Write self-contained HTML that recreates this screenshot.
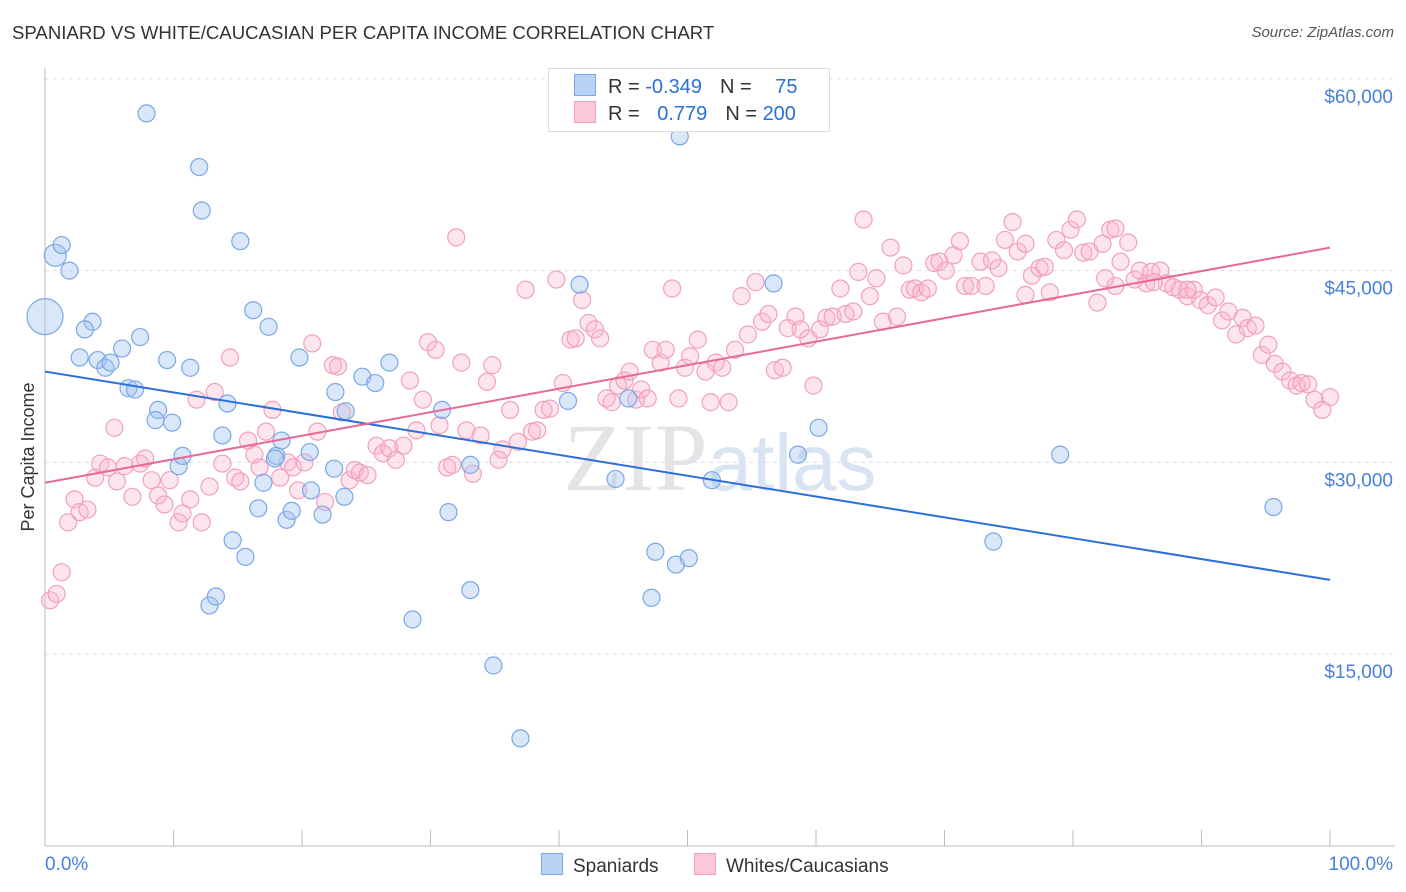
<!DOCTYPE html>
<html><head><meta charset="utf-8">
<style>
body{margin:0;background:#fff;font-family:"Liberation Sans",sans-serif;}
#wrap{position:relative;width:1406px;height:892px;overflow:hidden;}
.t{position:absolute;white-space:nowrap;}
</style></head>
<body><div id="wrap">
<div class="t" style="left:12px;top:22px;font-size:18.6px;color:#333;">SPANIARD VS WHITE/CAUCASIAN PER CAPITA INCOME CORRELATION CHART</div>
<div class="t" style="right:12px;top:24px;font-size:15px;color:#555;font-style:italic;">Source: ZipAtlas.com</div>
<svg id="plot" width="1406" height="892" style="position:absolute;left:0;top:0"></svg>
</div>
<script>
const yTicks=[15000,30000,45000,60000];
const yTickLabels=["$15,000","$30,000","$45,000","$60,000"];
const xTickLabels=["0.0%","100.0%"];
const spanX=[0,0.8,1.3,1.9,3.7,3.1,2.7,4.1,4.7,5.1,6.0,7.4,7.9,6.5,7.0,8.8,8.6,9.9,9.5,10.4,10.7,11.3,12.0,12.2,14.2,13.8,14.6,15.2,15.6,16.2,17.4,17.0,16.6,18.0,18.4,18.8,19.2,19.8,20.6,20.7,21.6,22.6,22.5,23.4,23.3,24.7,25.7,26.8,30.9,31.4,33.1,33.1,34.9,37.0,41.6,40.7,44.4,45.4,47.5,47.2,49.1,50.1,49.4,51.9,56.7,58.6,60.2,73.8,79.0,95.6,12.8,13.3,28.6,17.9];
const spanY=[41.4,46.2,47.0,45.0,41.0,40.4,38.2,38.0,37.4,37.8,38.9,39.8,57.3,35.8,35.7,34.1,33.3,33.1,38.0,29.7,30.5,37.4,53.1,49.7,34.6,32.1,23.9,47.3,22.6,41.9,40.6,28.4,26.4,30.5,31.7,25.5,26.2,38.2,30.8,27.8,25.9,35.5,29.5,34.0,27.3,36.7,36.2,37.8,34.1,26.1,29.8,20.0,14.1,8.4,43.9,34.8,28.7,35.0,23.0,19.4,22.0,22.5,55.5,28.6,44.0,30.6,32.7,23.8,30.6,26.5,18.8,19.5,17.7,30.3];
const whiteX=[0.4,0.9,1.3,1.8,2.3,2.7,3.3,3.9,4.3,4.9,5.4,5.6,6.2,6.8,7.4,7.8,8.3,8.8,9.3,9.7,10.4,10.7,11.3,11.8,12.2,12.8,13.2,13.8,14.4,14.8,15.2,15.8,16.3,16.7,17.2,17.7,18.3,18.9,19.3,19.7,20.2,20.8,21.2,21.8,22.4,22.8,23.1,23.7,24.1,24.5,25.1,25.8,26.3,26.8,27.3,27.9,28.4,28.9,29.4,29.8,30.4,30.7,31.3,31.7,32.0,32.4,32.8,33.3,33.9,34.4,34.8,35.3,35.6,36.2,36.8,37.4,37.9,38.3,38.8,39.3,39.8,40.3,40.9,41.3,41.8,42.3,42.8,43.2,43.7,44.1,44.6,45.1,45.5,46.0,46.4,46.9,47.3,47.9,48.3,48.8,49.3,49.8,50.2,50.8,51.4,51.8,52.2,52.7,53.2,53.7,54.2,54.7,55.3,55.8,56.3,56.8,57.4,57.8,58.4,58.8,59.4,59.8,60.3,60.8,61.3,61.9,62.3,62.9,63.3,63.7,64.2,64.7,65.2,65.8,66.3,66.8,67.3,67.7,68.2,68.7,69.2,69.6,70.1,70.7,71.2,71.6,72.1,72.8,73.2,73.7,74.2,74.7,75.3,75.7,76.3,76.8,77.4,77.8,78.2,78.7,79.3,79.8,80.3,80.8,81.3,81.9,82.3,82.9,83.3,83.7,84.3,84.8,85.2,85.7,86.1,86.8,87.3,87.8,88.3,88.9,89.4,89.9,90.5,91.1,91.6,92.1,92.7,93.2,93.6,94.2,94.7,95.2,95.7,96.3,96.9,97.4,97.8,98.3,98.8,99.4,100,83.3,82.5,86.3,88.9,76.3];
const whiteY=[19.2,19.7,21.4,25.3,27.1,26.1,26.3,28.8,29.9,29.6,32.7,28.5,29.7,27.3,29.9,30.3,28.6,27.4,26.7,28.6,25.3,26.0,27.1,34.9,25.3,28.1,35.5,29.9,38.2,28.8,28.5,31.7,30.6,29.6,32.4,34.1,28.8,30.0,29.6,27.8,30.0,39.3,32.4,26.9,37.6,37.5,33.9,28.6,29.4,29.2,29.0,31.3,30.7,31.1,30.2,31.3,36.4,32.5,34.9,39.4,38.8,32.9,29.6,29.8,47.6,37.8,32.5,29.1,32.1,36.3,37.6,30.2,31.0,34.1,31.6,43.5,32.4,32.5,34.1,34.2,44.3,36.2,39.6,39.7,42.7,40.9,40.4,39.7,35.0,34.7,36.0,36.4,37.1,34.9,35.7,35.0,38.8,37.8,38.8,43.6,35.0,37.4,38.3,39.6,37.1,34.7,37.8,37.4,34.7,38.8,43.0,40.0,44.1,41.0,41.6,37.2,37.4,40.5,41.4,40.4,39.7,36.0,40.4,41.3,41.4,43.6,41.6,41.8,44.9,49.0,43.0,44.4,41.0,46.8,41.4,45.4,43.5,43.6,43.3,43.6,45.6,45.7,45.0,46.2,47.3,43.8,43.8,45.7,43.8,45.8,45.2,47.4,48.8,46.5,47.1,44.6,45.2,45.3,43.3,47.4,46.6,48.2,49.0,46.4,46.5,42.5,47.1,48.2,48.3,45.7,47.2,44.3,45.0,44.0,44.9,45.0,44.0,43.7,43.5,43.0,43.5,42.7,42.3,42.9,41.1,41.8,40.0,41.3,40.5,40.7,38.4,39.2,37.7,37.1,36.4,36.0,36.2,36.1,34.9,34.1,35.1,43.8,44.4,44.1,43.5,43.1];
const spanTrend=[37.1,20.8]; // value at 0% and 100% ($k)
const whiteTrend=[28.4,46.8];

const NS="http://www.w3.org/2000/svg";
const svg=document.getElementById('plot');
const X0=45,X1=1330;
function xs(p){return X0+(X1-X0)*p/100;}
function ys(v){return 654-(v-15000)/15000*191.7;}
function mk(tag,attrs,parent){const e=document.createElementNS(NS,tag);for(const k in attrs)e.setAttribute(k,attrs[k]);(parent||svg).appendChild(e);return e;}

yTicks.forEach(v=>{
  const l=mk('line',{x1:X0,x2:1395,y1:ys(v),y2:ys(v),stroke:'#dde','stroke-dasharray':'4,4','stroke-width':1});
  
  
});
const ax=mk('line',{x1:X0,x2:1395,y1:846,y2:846,stroke:'#bbb'});


const ay=mk('line',{x1:X0,x2:X0,y1:68,y2:846,stroke:'#bbb'});


for(let i=0;i<=10;i++){
  const t=mk('line',{x1:xs(i*10),x2:xs(i*10),y1:830,y2:846,stroke:'#bbb'});
  
  
}
yTicks.forEach((v,i)=>{
  const t=mk('text',{x:1393,y:ys(v)+24,'text-anchor':'end','font-size':19,fill:'#4a7fd8','font-family':'Liberation Sans'});
  t.textContent=yTickLabels[i];
  
  
});
const xl0=mk('text',{x:45,y:870,'font-size':19,fill:'#4a7fd8','font-family':'Liberation Sans'});
xl0.textContent=xTickLabels[0];


const xl1=mk('text',{x:1393,y:870,'text-anchor':'end','font-size':19,fill:'#4a7fd8','font-family':'Liberation Sans'});
xl1.textContent=xTickLabels[1];


const yt=mk('text',{x:34,y:457,'text-anchor':'middle','font-size':18,fill:'#333','font-family':'Liberation Sans',transform:'rotate(-90 34 457)'});
yt.textContent='Per Capita Income';


const wm=mk('text',{x:720,y:490,'text-anchor':'middle','font-size':96,'font-family':'Liberation Serif',fill:'#e4e4e8'});
wm.innerHTML='ZIP<tspan font-family="Liberation Sans" fill="#d8e4f2" font-size="80">atlas</tspan>';



whiteX.forEach((x,i)=>{
  const c=mk('circle',{cx:xs(x),cy:ys(whiteY[i]*1000),r:8.5,fill:'rgba(248,180,205,0.35)',stroke:'#f2a0bd','stroke-width':1.2});
  
  
});
spanX.forEach((x,i)=>{
  const r=i===0?18:(i===1?11:8.5);
  const c=mk('circle',{cx:xs(x),cy:ys(spanY[i]*1000),r:r,fill:'rgba(160,196,240,0.4)',stroke:'#7aa8e6','stroke-width':1.2});
  
  
});
const tb=mk('line',{x1:xs(0),y1:ys(spanTrend[0]*1000),x2:xs(100),y2:ys(spanTrend[1]*1000),stroke:'#2a6fdb','stroke-width':2});


const tp=mk('line',{x1:xs(0),y1:ys(whiteTrend[0]*1000),x2:xs(100),y2:ys(whiteTrend[1]*1000),stroke:'#e8689a','stroke-width':2});


</script>
<div class="t" style="left:548px;top:68px;width:280px;height:62px;border:1px solid #ddd;background:#fff;font-size:20px;">
  <div style="position:absolute;left:25px;top:5px;"><span style="display:inline-block;width:20px;height:20px;background:#b6d2f4;border:1px solid #7aa8e6;vertical-align:-3px;"></span><span style="color:#333;margin-left:12px;">R = </span><span style="color:#2a6fdb;">-0.349</span><span style="color:#333;margin-left:18px;">N = </span><span style="color:#2a6fdb;margin-left:18px;">75</span></div>
  <div style="position:absolute;left:25px;top:32px;"><span style="display:inline-block;width:20px;height:20px;background:#fbc8da;border:1px solid #f2a0bd;vertical-align:-3px;"></span><span style="color:#333;margin-left:12px;">R = </span><span style="color:#2a6fdb;margin-left:12px;">0.779</span><span style="color:#333;margin-left:18px;">N = </span><span style="color:#2a6fdb;">200</span></div>
</div>
<div class="t" style="left:541px;top:853px;font-size:19px;color:#333;"><span style="display:inline-block;width:20px;height:20px;background:#b6d2f4;border:1px solid #7aa8e6;vertical-align:-3px;margin-right:10px;"></span>Spaniards</div>
<div class="t" style="left:694px;top:853px;font-size:19px;color:#333;"><span style="display:inline-block;width:20px;height:20px;background:#fbc8da;border:1px solid #f2a0bd;vertical-align:-3px;margin-right:10px;"></span>Whites/Caucasians</div>
</body></html>
